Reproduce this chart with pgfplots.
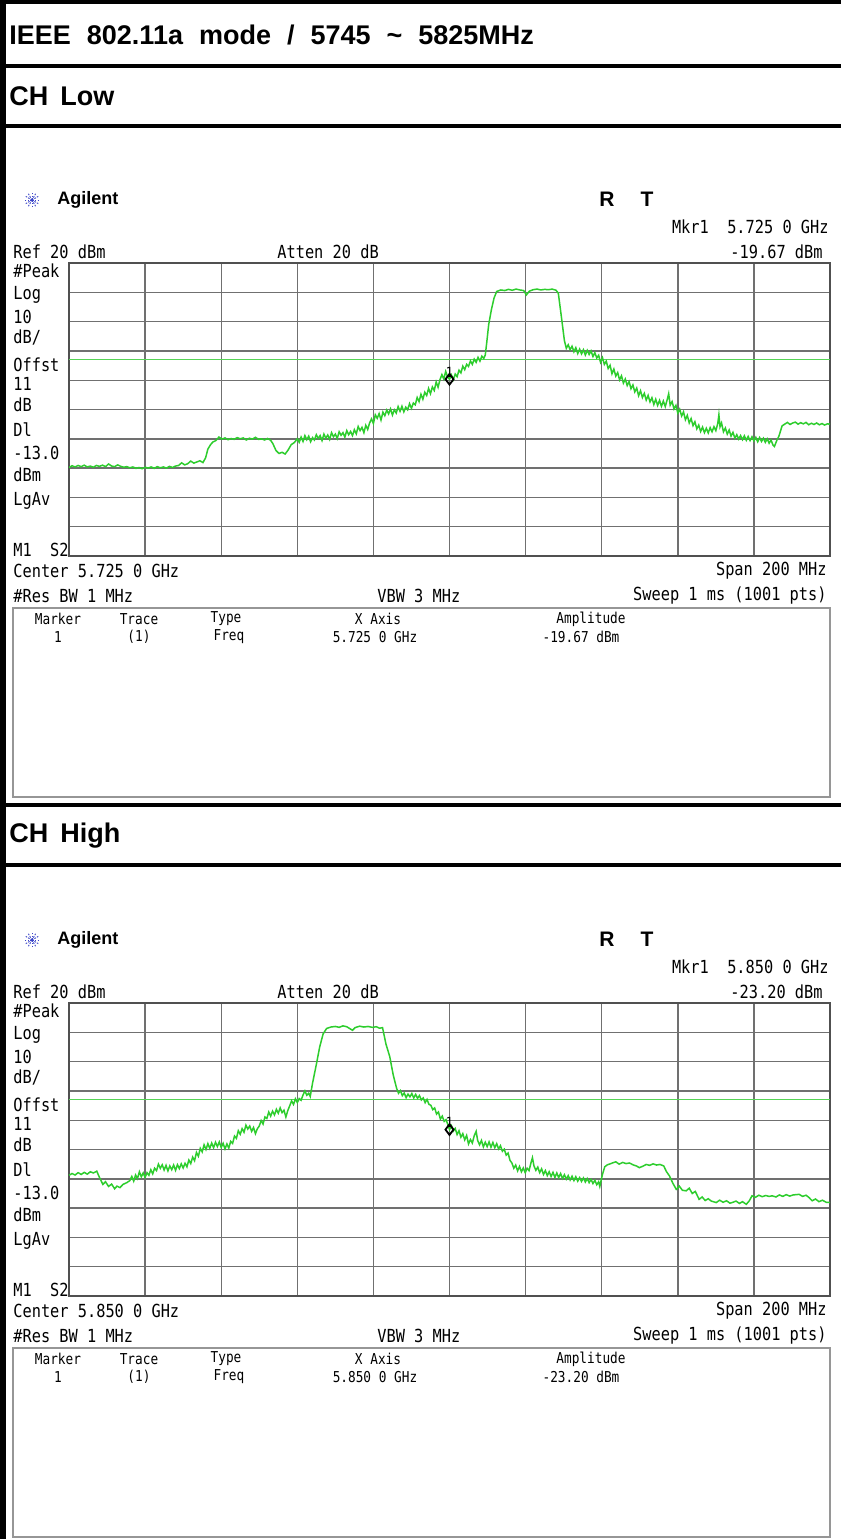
\documentclass[border=0pt]{standalone}
\usepackage{fontspec}
\usepackage{pgfplots}
\pgfplotsset{compat=1.18}
\usepackage{pgfplotstable}
\setmainfont{Liberation Sans}
\newfontfamily\sa[FakeStretch=0.85]{DejaVu Sans Mono}
\newfontfamily\ar{Liberation Sans}
\definecolor{tr}{RGB}{45,205,45}
\definecolor{dl}{RGB}{85,212,85}
\definecolor{gr}{RGB}{112,112,112}
\definecolor{gb}{RGB}{80,80,80}
\definecolor{bx}{RGB}{150,150,150}
\definecolor{ag}{RGB}{60,70,200}

\pgfplotstableread{
f p
5625 -49.8
5625.8 -49.2
5626.6 -49.6
5627.4 -49.1
5628.2 -49.5
5629 -49.0
5629.8 -49.6
5630.6 -49.3
5631.4 -49.7
5632.2 -49.1
5633 -49.4
5633.8 -49.0
5634.6 -49.5
5635.4 -48.6
5636.2 -49.3
5637 -49.5
5637.8 -48.9
5638.6 -49.4
5639.4 -49.7
5640.2 -49.5
5641 -49.9
5641.8 -49.6
5642.6 -50.1
5643.4 -49.8
5644.2 -50.2
5645 -49.7
5645.8 -50.0
5646.6 -49.6
5647.4 -50.1
5648.2 -49.5
5649 -49.9
5649.8 -49.6
5650.6 -50.0
5651.4 -49.4
5652.2 -49.8
5653 -49.3
5653.8 -49.1
5654.6 -48.2
5655.4 -48.9
5656.2 -48.5
5657 -47.6
5657.8 -48.3
5658.6 -47.9
5659.4 -47.5
5660.2 -48.1
5660.9 -46.5
5661.5 -43.5
5662.2 -42.0
5662.8 -41.1
5663.6 -40.6
5664.4 -39.4
5665.2 -40.1
5666 -39.7
5666.8 -40.3
5667.6 -39.9
5668.4 -40.2
5669.2 -39.6
5670 -40.0
5670.8 -39.7
5671.6 -40.4
5672.4 -39.8
5673.2 -40.1
5674 -39.5
5674.8 -40.2
5675.6 -40.0
5676.4 -40.4
5677.2 -39.9
5678 -40.5
5678.6 -41.7
5679.4 -44.0
5680.2 -45.0
5681 -44.6
5681.8 -45.2
5682.6 -43.8
5683.4 -42.0
5684.2 -41.3
5685 -40.0
5685.5 -41.2
5686 -39.4
5686.5 -40.9
5687 -38.9
5687.5 -40.3
5688 -39.1
5688.5 -41.0
5689 -39.6
5689.5 -40.4
5690 -38.6
5690.5 -39.9
5691 -38.9
5691.5 -40.6
5692 -38.4
5692.5 -39.8
5693 -38.7
5693.5 -40.2
5694 -37.9
5694.5 -39.3
5695 -38.4
5695.5 -39.9
5696 -37.6
5696.5 -38.8
5697 -37.9
5697.5 -39.4
5698 -37.2
5698.5 -38.6
5699 -37.5
5699.5 -38.9
5700 -36.9
5700.5 -38.3
5701 -35.8
5701.5 -37.2
5702 -36.1
5702.5 -37.9
5703 -35.4
5703.5 -36.8
5704 -34.6
5704.5 -33.2
5705 -34.8
5705.5 -31.8
5706 -33.0
5706.5 -31.4
5707 -33.6
5707.5 -30.9
5708 -32.1
5708.5 -30.2
5709 -31.5
5709.5 -29.8
5710 -31.9
5710.5 -30.1
5711 -31.2
5711.5 -29.0
5712 -30.6
5712.5 -28.9
5713 -30.8
5713.5 -29.2
5714 -30.1
5714.5 -28.0
5715 -29.6
5715.5 -27.8
5716 -28.4
5716.5 -25.9
5717 -27.3
5717.5 -24.8
5718 -26.5
5718.5 -24.1
5719 -25.2
5719.5 -22.8
5720 -24.6
5720.5 -22.3
5721 -23.5
5721.5 -20.6
5722 -22.4
5722.5 -19.8
5723 -18.1
5723.5 -19.6
5724 -17.0
5724.5 -18.9
5725 -19.67
5725.5 -18.2
5726 -19.8
5726.5 -17.9
5727 -18.8
5727.5 -16.6
5728 -17.5
5728.5 -15.2
5729 -16.4
5729.5 -14.6
5730 -15.3
5730.5 -13.4
5731 -14.6
5731.5 -12.8
5732 -13.9
5732.5 -12.2
5733 -13.5
5733.5 -11.8
5734 -12.6
5734.4 -11.4
5734.8 -7.0
5735.3 -1.0
5736.0 4.0
5736.7 8.0
5737.4 10.3
5738.5 10.8
5739.5 10.6
5740.5 11.0
5741.5 10.7
5742.5 11.1
5743.5 10.8
5744.5 10.6
5745.2 9.1
5746 10.4
5747 10.9
5748 11.1
5749 10.8
5750 11.0
5751 10.9
5752 11.1
5753 10.7
5753.6 9.7
5754.4 1.7
5755.2 -6.5
5755.7 -9.1
5756.2 -7.9
5756.7 -9.6
5757.2 -8.4
5757.7 -10.3
5758.2 -8.9
5758.7 -10.9
5759.2 -9.4
5759.7 -11.0
5760.2 -9.6
5760.7 -11.4
5761.2 -9.8
5761.7 -11.2
5762.2 -10.0
5762.7 -11.9
5763.2 -10.6
5763.7 -12.4
5764.2 -11.5
5764.7 -13.9
5765.2 -12.3
5765.7 -14.6
5766.2 -13.5
5766.7 -16.0
5767.2 -14.9
5767.7 -17.8
5768.2 -16.2
5768.7 -18.6
5769.2 -17.4
5769.7 -19.9
5770.2 -18.5
5770.7 -21.0
5771.2 -19.6
5771.7 -21.8
5772.2 -20.5
5772.7 -22.9
5773.2 -21.6
5773.7 -24.0
5774.2 -22.7
5774.7 -25.3
5775.2 -23.6
5775.7 -25.9
5776.2 -24.5
5776.7 -26.8
5777.2 -25.2
5777.7 -27.4
5778.2 -26.0
5778.7 -28.3
5779.2 -26.5
5779.7 -28.6
5780.2 -26.9
5780.7 -28.9
5781.2 -27.1
5781.7 -29.0
5782.2 -26.7
5782.6 -24.6
5783.0 -28.5
5783.5 -27.3
5784 -29.8
5784.5 -28.6
5785 -31.2
5785.5 -29.9
5786 -32.2
5786.5 -30.8
5787 -33.5
5787.5 -32.0
5788 -34.6
5788.5 -33.1
5789 -35.5
5789.5 -34.2
5790 -36.6
5790.5 -35.3
5791 -37.5
5791.5 -36.0
5792 -37.9
5792.5 -36.4
5793 -38.0
5793.5 -36.2
5794 -37.6
5794.5 -35.9
5795 -37.2
5795.5 -34.8
5795.8 -31.8
5796.1 -35.9
5796.5 -34.6
5797 -37.6
5797.5 -36.3
5798 -38.4
5798.5 -37.0
5799 -39.1
5799.5 -37.8
5800 -39.8
5800.5 -38.6
5801 -40.1
5801.5 -38.9
5802 -40.3
5802.5 -39.0
5803 -40.5
5803.5 -39.2
5804 -40.6
5804.5 -39.3
5805 -40.7
5805.5 -39.5
5806 -41.0
5806.5 -39.6
5807 -40.9
5807.5 -39.8
5808 -41.2
5808.5 -40.0
5809 -41.5
5809.5 -40.4
5810 -42.1
5810.4 -42.6
5811 -40.6
5811.6 -39.0
5812.4 -35.6
5813.1 -35.0
5813.8 -34.4
5814.5 -35.1
5815.2 -34.6
5815.9 -34.3
5816.6 -35.0
5817.3 -34.5
5818 -34.9
5818.7 -34.4
5819.4 -35.2
5820.1 -34.7
5820.8 -35.1
5821.5 -34.6
5822.2 -35.2
5822.9 -34.8
5823.6 -35.3
5824.3 -34.9
5825 -35.0
}\lowtab

\pgfplotstableread{
f p
5750 -38.8
5750.8 -38.2
5751.6 -38.7
5752.4 -37.9
5753.2 -38.5
5754 -37.8
5754.8 -38.4
5755.6 -37.6
5756.4 -38.0
5757.3 -37.4
5758 -39.5
5758.9 -41.9
5759.6 -41.0
5760.4 -42.6
5761.2 -41.8
5762 -43.4
5762.6 -42.5
5763.4 -43.0
5764.2 -41.9
5765.2 -41.3
5766 -40.6
5766.5 -39.2
5767 -40.8
5767.5 -38.7
5768 -39.9
5768.5 -37.6
5769 -39.3
5769.5 -38.0
5770 -39.5
5770.5 -37.9
5771 -38.8
5771.5 -36.9
5772 -38.3
5772.5 -36.4
5773 -37.2
5773.5 -35.0
5774 -36.4
5774.5 -35.2
5775 -37.0
5775.5 -35.4
5776 -37.3
5776.5 -35.6
5777 -36.9
5777.5 -35.3
5778 -37.1
5778.5 -35.2
5779 -36.5
5779.5 -34.9
5780 -36.3
5780.5 -34.7
5781 -35.9
5781.5 -33.6
5782 -34.8
5782.5 -32.6
5783 -33.8
5783.5 -31.0
5784 -32.3
5784.5 -29.6
5785 -30.8
5785.5 -28.4
5786 -30.0
5786.5 -28.0
5787 -29.6
5787.5 -27.8
5788 -29.4
5788.5 -27.5
5789 -29.0
5789.5 -27.4
5790 -29.3
5790.5 -27.9
5791 -29.8
5791.5 -28.1
5792 -29.5
5792.5 -27.2
5793 -27.9
5793.5 -25.4
5794 -26.2
5794.5 -23.6
5795 -24.8
5795.5 -22.9
5796 -24.1
5796.5 -21.7
5797 -23.0
5797.5 -22.0
5798 -23.8
5798.5 -22.5
5799 -24.6
5799.5 -22.9
5800 -22.0
5800.5 -20.1
5801 -21.3
5801.5 -18.9
5802 -19.4
5802.5 -17.2
5803 -18.6
5803.5 -16.9
5804 -18.2
5804.5 -16.3
5805 -17.6
5805.5 -15.8
5806 -17.4
5806.5 -16.6
5807 -18.9
5807.5 -16.7
5808 -15.1
5808.5 -13.4
5809 -14.6
5809.5 -12.7
5810 -14.0
5810.5 -12.6
5811 -13.2
5811.5 -11.4
5812 -10.0
5812.5 -11.5
5813 -10.8
5813.4 -11.9
5814 -7.4
5815 -1.0
5815.9 5.1
5816.8 9.5
5817.7 11.3
5818.8 11.8
5820 12.0
5821 11.7
5822 12.2
5823 11.9
5824.5 10.7
5825.2 11.6
5826.4 12.1
5827.5 11.8
5828.6 12.0
5829.7 11.7
5830.8 11.9
5831.6 11.4
5832.4 11.6
5833.3 6.0
5834.3 1.7
5835.2 -4.5
5836.1 -9.1
5836.6 -10.8
5837.1 -9.9
5837.6 -11.6
5838.1 -10.7
5838.6 -12.3
5839.1 -11.1
5839.6 -12.0
5840.1 -10.9
5840.6 -12.4
5841.1 -11.2
5841.6 -12.5
5842.1 -11.6
5842.6 -13.1
5843.1 -12.4
5843.6 -14.0
5844.1 -12.9
5844.6 -14.6
5845.1 -14.9
5845.6 -16.4
5846.1 -15.8
5846.6 -17.9
5847.1 -17.2
5847.6 -19.6
5848.1 -18.6
5848.6 -20.4
5849.1 -19.8
5849.6 -21.6
5850 -23.2
5850.5 -21.9
5851 -23.7
5851.5 -22.8
5852 -24.9
5852.5 -23.6
5853 -25.8
5853.5 -24.6
5854 -26.7
5854.5 -25.2
5855 -28.1
5855.5 -26.6
5856 -27.8
5856.5 -25.3
5857 -23.8
5857.4 -26.9
5857.9 -28.4
5858.4 -26.9
5858.9 -29.1
5859.4 -27.5
5859.9 -29.0
5860.4 -27.4
5860.9 -29.2
5861.4 -27.6
5861.9 -29.4
5862.4 -28.0
5862.9 -29.8
5863.4 -28.7
5863.9 -30.6
5864.4 -29.9
5864.9 -31.9
5865.4 -31.2
5865.9 -33.7
5866.4 -34.6
5866.9 -36.4
5867.4 -35.3
5867.9 -37.3
5868.4 -35.8
5868.9 -37.6
5869.4 -36.3
5869.9 -37.9
5870.4 -36.4
5870.9 -37.2
5871.4 -34.6
5871.8 -32.8
5872.2 -35.6
5872.7 -37.1
5873.2 -36.0
5873.7 -37.9
5874.2 -36.6
5874.7 -38.5
5875.2 -37.2
5875.7 -38.9
5876.2 -37.6
5876.7 -39.2
5877.2 -37.8
5877.7 -39.5
5878.2 -38.0
5878.7 -39.6
5879.2 -38.2
5879.7 -39.9
5880.2 -38.6
5880.7 -40.1
5881.2 -38.9
5881.7 -40.4
5882.2 -39.1
5882.7 -40.6
5883.2 -39.3
5883.7 -40.8
5884.2 -39.6
5884.7 -40.9
5885.2 -39.7
5885.7 -41.1
5886.2 -39.9
5886.7 -41.3
5887.2 -40.2
5887.7 -41.6
5888.2 -40.5
5888.7 -42.0
5889.2 -41.0
5889.5 -42.6
5890.2 -38.5
5890.8 -35.9
5891.5 -35.2
5892 -35.0
5892.8 -34.6
5893.7 -34.2
5894.6 -35.0
5895.5 -34.4
5896.4 -34.8
5897.3 -34.6
5898.2 -35.2
5899.1 -35.6
5899.9 -36.2
5900.8 -35.7
5901.7 -35.1
5902.6 -35.4
5903.5 -34.9
5904.4 -35.3
5905.3 -35.1
5906.3 -35.6
5907 -37.5
5907.8 -39.0
5908.7 -41.5
5909.6 -43.6
5910.4 -42.5
5911.2 -43.9
5912.2 -44.1
5913 -43.2
5913.8 -45.0
5914.6 -44.3
5915.6 -47.0
5916.4 -46.2
5917.2 -47.4
5918 -46.8
5918.8 -47.6
5920.1 -48.1
5921 -47.3
5921.9 -48.0
5922.8 -47.5
5923.7 -48.3
5924.3 -48.1
5925.3 -47.6
5926.2 -48.4
5927 -47.8
5928 -48.7
5928.8 -47.5
5929.5 -45.8
5930.4 -46.3
5931.3 -45.6
5932.2 -46.1
5933.1 -45.7
5934 -46.0
5934.8 -45.8
5935.8 -46.2
5936.7 -45.5
5937.6 -46.0
5938.5 -45.4
5939.4 -45.9
5940.3 -45.5
5941.9 -45.3
5942.8 -46.0
5943.7 -45.6
5944.5 -46.4
5945.3 -47.5
5946.2 -46.9
5947.1 -47.8
5948 -47.3
5949 -48.0
5950 -48.1
}\hightab

\tikzset{
  sa/.style={font=\sa\fontsize{9pt}{10pt}\selectfont, inner sep=0pt, text=black},
  st/.style={font=\sa\fontsize{7.5pt}{8pt}\selectfont, inner sep=0pt, text=black},
  hd/.style={font=\ar\bfseries\fontsize{13.5pt}{15pt}\selectfont, inner sep=0pt, anchor=west},
}

% #1 offset, #2 centre text, #3 marker amplitude, #4 table, #5 xmin, #6 marker x, #7 marker y
\newcommand{\chart}[7]{%
  \foreach \a in {0,30,...,330} \draw[ag, line width=0.45pt, dash pattern=on 0.8pt off 0.6pt] (32,200+#1) -- ++(\a:8);
  \node[font=\ar\bfseries\fontsize{9pt}{10pt}\selectfont, inner sep=0pt, anchor=west] at (57,200+#1) {Agilent};
  \node[font=\ar\bfseries\fontsize{10.5pt}{11pt}\selectfont, inner sep=0pt] at (607,199+#1) {R};
  \node[font=\ar\bfseries\fontsize{10.5pt}{11pt}\selectfont, inner sep=0pt] at (647,199+#1) {T};
  \node[sa, anchor=east] at (829,227+#1) {Mkr1\ \ #2 GHz};
  \node[sa, anchor=west] at (13,252+#1) {Ref 20 dBm};
  \node[sa, anchor=west] at (277,252+#1) {Atten 20 dB};
  \node[sa, anchor=east] at (823,252+#1) {#3 dBm};
  \node[sa, anchor=west] at (13,271+#1) {\#Peak};
  \node[sa, anchor=west] at (13,295+#1) {Log};
  \node[sa, anchor=west] at (13,317+#1) {10};
  \node[sa, anchor=west] at (13,337+#1) {dB/};
  \node[sa, anchor=west] at (13,365+#1) {Offst};
  \node[sa, anchor=west] at (13,384+#1) {11};
  \node[sa, anchor=west] at (13,405+#1) {dB};
  \node[sa, anchor=west] at (13,430+#1) {Dl};
  \node[sa, anchor=west] at (13,453+#1) {-13.0};
  \node[sa, anchor=west] at (13,475+#1) {dBm};
  \node[sa, anchor=west] at (13,501+#1) {LgAv};
  \node[sa, anchor=west] at (13,550+#1) {M1\ \ S2};
  \node[sa, anchor=west] at (13,571+#1) {Center #2 GHz};
  \node[sa, anchor=east] at (827,571+#1) {Span 200 MHz};
  \node[sa, anchor=west] at (13,596+#1) {\#Res BW 1 MHz};
  \node[sa, anchor=west] at (377,596+#1) {VBW 3 MHz};
  \node[sa, anchor=east] at (827,596+#1) {Sweep 1 ms (1001 pts)};
  \draw[bx, line width=1pt] (13,608+#1) rectangle (830,797+#1);
  \node[st] at (58,619+#1) {Marker};
  \node[st] at (139,619+#1) {Trace};
  \node[st] at (226,619+#1) {Type};
  \node[st] at (378,619+#1) {X Axis};
  \node[st] at (591,619+#1) {Amplitude};
  \node[st] at (58,637+#1) {1};
  \node[st] at (139,637+#1) {(1)};
  \node[st] at (229,637+#1) {Freq};
  \node[st] at (375,637+#1) {#2 GHz};
  \node[st] at (581,637+#1) {#3 dBm};
  \begin{axis}[
    at={(34.5pt,{-(263+#1)*0.5pt})}, anchor=north west,
    width=380.5pt, height=146.5pt, scale only axis,
    xmin=#5, xmax=#5+200, ymin=-80, ymax=20,
    xtick={#5,#5+20,...,#5+200}, ytick={-80,-70,...,20},
    xticklabels={}, yticklabels={}, major tick length=0pt,
    grid=major, grid style={gr, line width=0.7pt},
    axis line style={gb, line width=1.1pt},
  ]
    \addplot[dl, line width=0.6pt] coordinates {(#5,-13) (#5+200,-13)};
    \addplot[tr, line width=0.75pt] table[x=f, y=p] {#4};
    \addplot[only marks, mark=diamond, mark size=2.7pt,
      mark options={draw=black, fill=none, line width=0.9pt},
      nodes near coords={1},
      nodes near coords style={font=\sa\fontsize{7pt}{7pt}\selectfont, text=black, anchor=south, yshift=0.6pt, inner sep=0pt}]
      coordinates {(#6,#7)};
  \end{axis}
}

\begin{document}
\begin{tikzpicture}[x=0.5pt, y=-0.5pt]
  \useasboundingbox (0,0) rectangle (841,1539);
  \fill[white] (0,0) rectangle (841,1539);
  \fill[black] (0,0) rectangle (6,1539);
  \fill[black] (0,0) rectangle (841,4);
  \fill[black] (0,64) rectangle (841,68);
  \fill[black] (0,124) rectangle (841,128);
  \fill[black] (0,803) rectangle (841,807);
  \fill[black] (0,863) rectangle (841,867);
  \node[hd] at (9,35) {IEEE\hspace{8pt}802.11a\hspace{8pt}mode\hspace{8pt}/\hspace{8pt}5745\hspace{8pt}\textasciitilde\hspace{8pt}5825MHz};
  \node[hd] at (9,96) {CH\hspace{6pt}Low};
  \node[hd] at (9,836) {CH\hspace{6pt}High};
  \chart{0}{5.725 0}{-19.67}{\lowtab}{5625}{5725}{-19.67}
  \chart{740}{5.850 0}{-23.20}{\hightab}{5750}{5850}{-23.2}
\end{tikzpicture}
\end{document}
